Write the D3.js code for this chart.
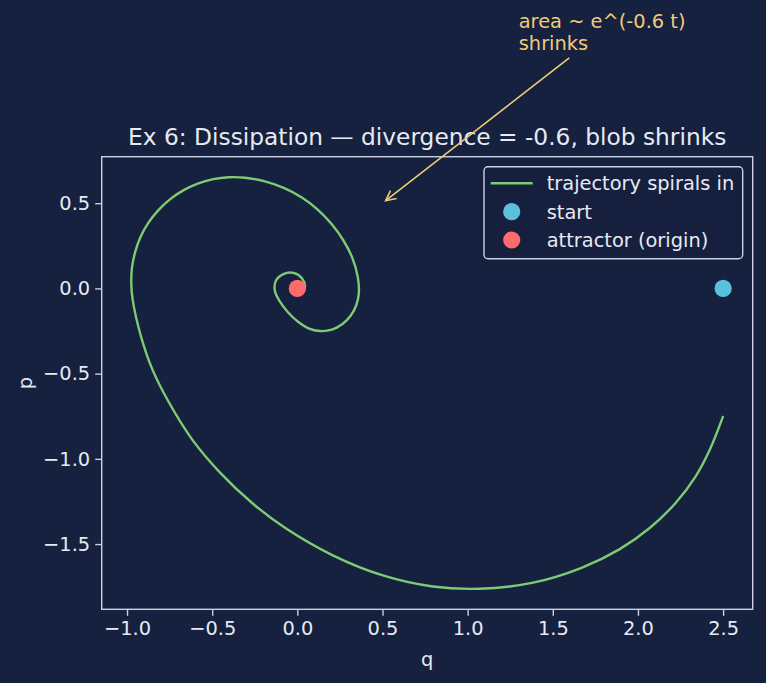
<!DOCTYPE html>
<html>
<head>
<meta charset="utf-8">
<script src="https://cdn.jsdelivr.net/npm/d3@7"></script>
<style>
  html, body { margin: 0; padding: 0; background: #16203f; }
  svg { display: block; }
  text { font-family: "DejaVu Sans", sans-serif; }
</style>
</head>
<body>
<script>
// ---- data ----
const trajQ = [2.498, 2.421, 2.338, 2.221, 2.069, 1.891, 1.669, 1.377, 1.069, 0.796,
  0.502, 0.208, -0.066, -0.262, -0.458, -0.615, -0.751, -0.850, -0.918, -0.967,
  -0.975, -0.971, -0.952, -0.921, -0.875, -0.817, -0.748, -0.670, -0.585, -0.494,
  -0.401, -0.307, -0.191, -0.080, 0.024, 0.118, 0.200, 0.269, 0.323, 0.355,
  0.361, 0.347, 0.314, 0.265, 0.203, 0.133, 0.065, 0.004, -0.055, -0.102,
  -0.132, -0.126, -0.082, -0.023, 0.027, 0.045, 0.024, -0.008];
const trajP = [-0.755, -0.948, -1.104, -1.259, -1.406, -1.531, -1.639, -1.728, -1.762, -1.749,
  -1.684, -1.566, -1.409, -1.262, -1.076, -0.890, -0.674, -0.478, -0.282, -0.066,
  0.027, 0.121, 0.214, 0.302, 0.384, 0.458, 0.522, 0.575, 0.615, 0.641,
  0.652, 0.649, 0.628, 0.590, 0.535, 0.464, 0.379, 0.284, 0.179, 0.066,
  -0.028, -0.096, -0.159, -0.209, -0.242, -0.250, -0.234, -0.196, -0.140, -0.078,
  -0.014, 0.045, 0.084, 0.091, 0.060, 0.010, -0.031, -0.025];
const startPoint = [2.5, 0.0];
const attractorPoint = [0.0, 0.0];
const xTicks = [-1.0, -0.5, 0.0, 0.5, 1.0, 1.5, 2.0, 2.5];
const yTicks = [-1.5, -1.0, -0.5, 0.0, 0.5];
const legendLabels = ["trajectory spirals in", "start", "attractor (origin)"];
const titleText = "Ex 6: Dissipation \u2014 divergence = -0.6, blob shrinks";
const annotationLines = ["area ~ e^(-0.6 t)", "shrinks"];
const annotationTarget = [0.5, 0.5];
const annotationTextPos = [1.3, 1.4];

// ---- style ----
const W = 766, H = 683;
const bg = "#16203f";
const fg = "#e6eaf2";
const spine = "#c9d1e3";
const lineColor = "#7ecb73";
const startColor = "#5bc0de";
const attractorColor = "#ff6b6b";
const annColor = "#f0cb78";
const fs = 19.4, titleFs = 23.3;

const margin = { left: 101.7, right: W - 752.7, top: 156.7, bottom: H - 609.3 };

const svg = d3.select("body").append("svg").attr("width", W).attr("height", H);
svg.append("rect").attr("width", W).attr("height", H).attr("fill", bg);

const traj = trajQ.map((q, i) => [q, trajP[i]]);
const allQ = trajQ.concat([startPoint[0], attractorPoint[0]]);
const allP = trajP.concat([startPoint[1], attractorPoint[1]]);
const qe = d3.extent(allQ), pe = d3.extent(allP);
const qPad = (qe[1] - qe[0]) * 0.05, pPad = (pe[1] - pe[0]) * 0.05;

const x = d3.scaleLinear().domain([qe[0] - qPad, qe[1] + qPad]).range([margin.left, W - margin.right]);
const y = d3.scaleLinear().domain([pe[0] - pPad, pe[1] + pPad]).range([H - margin.bottom, margin.top]);

// axes
const fmt = d3.format(".1f");
const xAxis = d3.axisBottom(x).tickValues(xTicks).tickFormat(fmt).tickSize(6.5).tickPadding(5);
const yAxis = d3.axisLeft(y).tickValues(yTicks).tickFormat(fmt).tickSize(6.5).tickPadding(5);

const gx = svg.append("g").attr("transform", `translate(0,${H - margin.bottom})`).call(xAxis);
const gy = svg.append("g").attr("transform", `translate(${margin.left},0)`).call(yAxis);
[gx, gy].forEach(g => {
  g.select(".domain").remove();
  g.selectAll(".tick line").attr("stroke", spine).attr("stroke-width", 1.4);
  g.selectAll(".tick text").attr("fill", fg).attr("font-size", fs).attr("font-family", "DejaVu Sans");
});

// spines
svg.append("rect")
  .attr("x", margin.left).attr("y", margin.top)
  .attr("width", W - margin.right - margin.left).attr("height", H - margin.bottom - margin.top)
  .attr("fill", "none").attr("stroke", spine).attr("stroke-width", 1.4);

// clip
svg.append("clipPath").attr("id", "clip").append("rect")
  .attr("x", margin.left).attr("y", margin.top)
  .attr("width", W - margin.right - margin.left).attr("height", H - margin.bottom - margin.top);
const plot = svg.append("g").attr("clip-path", "url(#clip)");

// trajectory
const line = d3.line().x(d => x(d[0])).y(d => y(d[1])).curve(d3.curveCatmullRom.alpha(0.5));
plot.append("path").datum(traj).attr("d", line)
  .attr("fill", "none").attr("stroke", lineColor).attr("stroke-width", 2.4)
  .attr("stroke-linejoin", "round").attr("stroke-linecap", "square");

// markers
plot.append("circle").attr("cx", x(startPoint[0])).attr("cy", y(startPoint[1])).attr("r", 8.6).attr("fill", startColor);
plot.append("circle").attr("cx", x(attractorPoint[0])).attr("cy", y(attractorPoint[1])).attr("r", 8.6).attr("fill", attractorColor);

// title
svg.append("text")
  .attr("x", (margin.left + W - margin.right) / 2).attr("y", 145)
  .attr("text-anchor", "middle").attr("fill", fg).attr("font-size", titleFs)
  .text(titleText);

// axis labels
svg.append("text")
  .attr("x", (margin.left + W - margin.right) / 2).attr("y", 666)
  .attr("text-anchor", "middle").attr("fill", fg).attr("font-size", fs).text("q");
svg.append("text")
  .attr("transform", `translate(32,${(margin.top + H - margin.bottom) / 2}) rotate(-90)`)
  .attr("text-anchor", "middle").attr("fill", fg).attr("font-size", fs).text("p");

// annotation
const lineH = 22;
const tx = x(annotationTextPos[0]), tyLast = y(annotationTextPos[1]);
const ann = svg.append("text").attr("fill", annColor).attr("font-size", fs);
annotationLines.forEach((s, i) => {
  ann.append("tspan").attr("x", tx).attr("y", tyLast - (annotationLines.length - 1 - i) * lineH).text(s);
});
const bb = ann.node().getBBox();
const cx0 = bb.x + bb.width / 2, cy0 = bb.y + bb.height / 2;
const txg = x(annotationTarget[0]), tyg = y(annotationTarget[1]);
const dx = txg - cx0, dy = tyg - cy0, len = Math.hypot(dx, dy);
const ux = dx / len, uy = dy / len;
const tBox = ((bb.y + bb.height) - cy0) / uy + 5;
const sx = cx0 + ux * tBox, sy = cy0 + uy * tBox;
const ex = txg - ux * 4, ey = tyg - uy * 4;
svg.append("line").attr("x1", sx).attr("y1", sy).attr("x2", ex).attr("y2", ey)
  .attr("stroke", annColor).attr("stroke-width", 1.6);
const hl = 10, hw = 5;
const bx = ex - ux * hl, by = ey - uy * hl;
svg.append("path")
  .attr("d", `M${bx - uy * hw},${by + ux * hw}L${ex},${ey}L${bx + uy * hw},${by - ux * hw}`)
  .attr("fill", "none").attr("stroke", annColor).attr("stroke-width", 1.6);

// legend
const lg = svg.append("g");
lg.append("rect").attr("x", 484).attr("y", 166.7).attr("width", 258.7).attr("height", 92)
  .attr("rx", 4).attr("fill", bg).attr("fill-opacity", 0.8).attr("stroke", spine).attr("stroke-width", 1.4);
const rowY = [183.3, 211.7, 240];
lg.append("line").attr("x1", 490.7).attr("x2", 532.7).attr("y1", rowY[0]).attr("y2", rowY[0])
  .attr("stroke", lineColor).attr("stroke-width", 2.4);
lg.append("circle").attr("cx", 511.7).attr("cy", rowY[1]).attr("r", 8.6).attr("fill", startColor);
lg.append("circle").attr("cx", 511.7).attr("cy", rowY[2]).attr("r", 8.6).attr("fill", attractorColor);
legendLabels.forEach((s, i) => {
  lg.append("text").attr("x", 546.7).attr("y", rowY[i]).attr("dy", "0.36em")
    .attr("fill", fg).attr("font-size", fs).text(s);
});
</script>
</body>
</html>
